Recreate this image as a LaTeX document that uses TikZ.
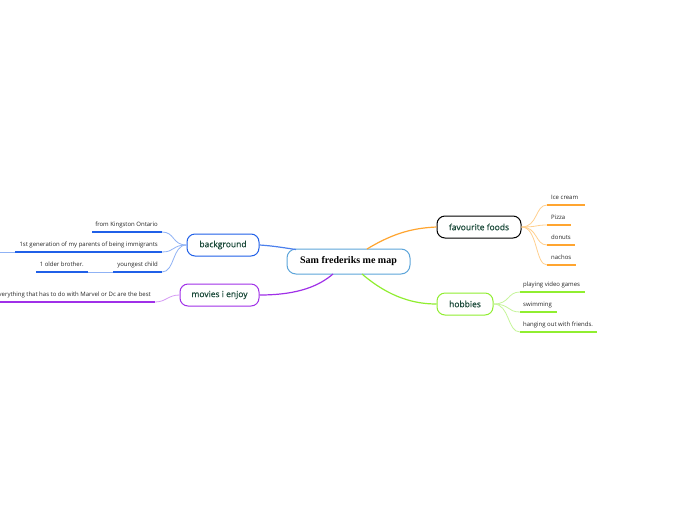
\documentclass[tikz,border=0pt]{standalone}
\usepackage{fontspec}
\setmainfont{Open Sans}
\newfontfamily\topicfont[FakeBold=0.7]{Open Sans}
\newfontfamily\serifbold{Liberation Serif}
\definecolor{maintext}{HTML}{1B4A3A}
\definecolor{bgblue}{HTML}{2060E8}
\definecolor{bgblue2}{HTML}{8FB2F5}
\definecolor{movpurple}{HTML}{A030E8}
\definecolor{movpurple2}{HTML}{D59AF5}
\definecolor{foodorange}{HTML}{FFA530}
\definecolor{foodorange2}{HTML}{FFD08F}
\definecolor{hobgreen}{HTML}{90EE30}
\definecolor{hobgreen2}{HTML}{C6F59A}
\definecolor{centerblue}{HTML}{5DA5DA}
\tikzset{
  topic/.style={draw, rounded corners=8pt, line width=1pt, inner sep=0pt, text=maintext, font=\topicfont\fontsize{8.5}{10}\selectfont},
  leaf/.style={inner sep=0pt, font=\fontsize{6}{7}\selectfont, text=black!85},
  uline/.style={line width=1.6pt},
  thin/.style={line width=0.8pt},
  mainconn/.style={line width=1.2pt},
}
\begin{document}
\begin{tikzpicture}[x=1pt,y=-1pt]
\useasboundingbox (0,0) rectangle (696,520);
\fill[white] (0,0) rectangle (696,520);

% central node
\node[draw=centerblue, rounded corners=9pt, line width=1pt, minimum width=123pt, minimum height=25pt, inner sep=0pt, font=\serifbold\bfseries\fontsize{10}{12}\selectfont] (c) at (348.5,261.5) {Sam frederiks me map};

% main topics
\node[topic, draw=black, minimum width=84pt, minimum height=22pt] (foods) at (479,227) {favourite foods};
\node[topic, draw=hobgreen, minimum width=56pt, minimum height=22pt] (hob) at (465,304) {hobbies};
\node[topic, draw=bgblue, minimum width=72pt, minimum height=22pt] (bg) at (223,245) {background};
\node[topic, draw=movpurple, minimum width=79pt, minimum height=22pt] (mov) at (219.5,295) {movies i enjoy};

% main connectors
\draw[mainconn, foodorange] (367,249) .. controls (395,232) and (415,228) .. (foods.west);
\draw[mainconn, hobgreen] (362,274) .. controls (390,298) and (415,304) .. (hob.west);
\draw[mainconn, bgblue!80] (bg.east) .. controls (275,246) and (285,248) .. (296,249.5);
\draw[mainconn, movpurple] (mov.east) .. controls (300,295) and (320,285) .. (333,274);

% favourite foods children
\foreach \n/\y/\e/\t in {f1/205/585/Ice cream, f2/225/571/Pizza, f3/245/575/donuts, f4/265/576/nachos}{
  \coordinate (\n s) at (547,\y);
  \coordinate (\n e) at (\e,\y);
  \node[leaf, anchor=base west] (\n) at (551,\y-6) {\t};
  \draw[thin, foodorange2] (foods.east) .. controls (538,227) and (535,\y) .. (\n s);
  \draw[uline, foodorange] (\n s) -- (\n e);
}

% hobbies children
\foreach \n/\y/\e/\t in {h1/292/585/playing video games, h2/312/557/swimming, h3/332/597/hanging out with friends.}{
  \coordinate (\n s) at (520,\y);
  \coordinate (\n e) at (\e,\y);
  \node[leaf, anchor=base west] (\n) at (523,\y-6) {\t};
  \draw[thin, hobgreen2] (hob.east) .. controls (510,304) and (507,\y) .. (\n s);
  \draw[uline, hobgreen] (\n s) -- (\n e);
}

% background children
\foreach \n/\y/\s/\t in {b1/232/92/from Kingston Ontario, b2/252/15/1st generation of my parents of being immigrants, b3/272/113/youngest child}{
  \coordinate (\n s) at (\s,\y);
  \coordinate (\n e) at (162,\y);
  \node[leaf, anchor=base east] (\n) at (158,\y-6) {\t};
  \draw[thin, bgblue2] (bg.west) .. controls (172,245) and (175,\y) .. (\n e);
  \draw[uline, bgblue] (\n s) -- (\n e);
}
\coordinate (b2x) at (0,252);
\draw[thin, bgblue2] (b2x) -- (b2s);
% youngest child -> 1 older brother.
\coordinate (b4s) at (36,272);
\coordinate (b4e) at (88,272);
\node[leaf, anchor=base east] (b4) at (84,266) {1 older brother.};
\draw[thin, bgblue2] (b4e) -- (b3s);
\draw[uline, bgblue] (b4s) -- (b4e);

% movies child
\coordinate (m1s) at (0,302);
\coordinate (m1e) at (155,302);
\node[leaf, anchor=base east] (m1) at (151,296) {everything that has to do with Marvel or Dc are the best};
\draw[thin, movpurple2] (mov.west) .. controls (168,295) and (166,302) .. (m1e);
\draw[uline, movpurple] (m1s) -- (m1e);
\end{tikzpicture}
\end{document}
